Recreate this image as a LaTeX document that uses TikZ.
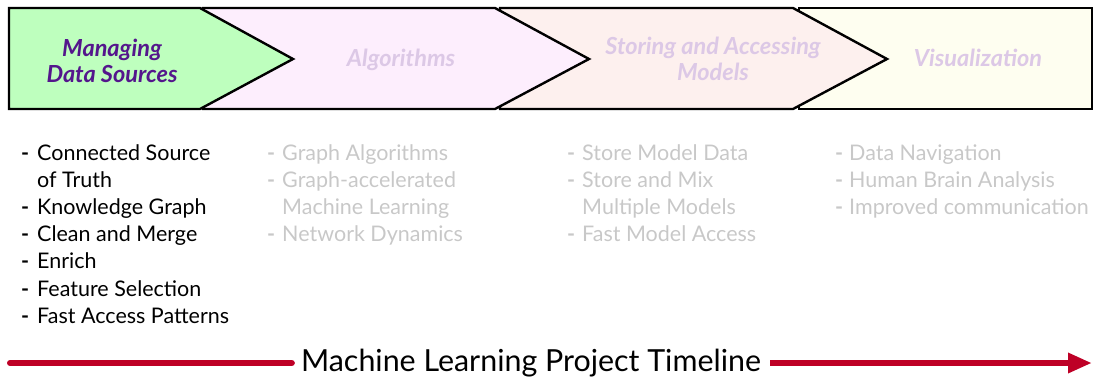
\documentclass[tikz,border=0pt]{standalone}
\usepackage{fontspec}
\setmainfont{Lato}
\usetikzlibrary{arrows.meta}
\definecolor{gfill}{RGB}{190,255,190}
\definecolor{pfill}{RGB}{253,238,253}
\definecolor{sfill}{RGB}{253,240,238}
\definecolor{yfill}{RGB}{254,254,240}
\definecolor{ptitle}{RGB}{84,22,140}
\definecolor{ltitle}{RGB}{220,200,230}
\definecolor{lgray}{RGB}{200,200,200}
\definecolor{tred}{RGB}{190,0,38}
\tikzset{
  chev/.style={draw=black,line width=2.4pt,line join=miter},
  ttl/.style={font=\fontsize{23.5}{26}\selectfont\bfseries\itshape,align=center,inner sep=0pt},
  itm/.style={font=\fontsize{21.5}{26}\selectfont,anchor=base west,inner sep=0pt},
  dsh/.style={font=\fontsize{21.5}{26}\selectfont\bfseries,anchor=base west,inner sep=0pt},
  tline/.style={draw=tred,line width=6pt}
}
\begin{document}
\begin{tikzpicture}[x=1pt,y=-1pt]
\useasboundingbox (0,0) rectangle (1094,381);
% chevrons, drawn right to left
\draw[chev,fill=yfill] (799,8) -- (1092,8) -- (1092,109) -- (799,109) -- cycle;
\draw[chev,fill=sfill] (500,8) -- (793,8) -- (887,59) -- (793,109) -- (500,109) -- cycle;
\draw[chev,fill=pfill] (203,8) -- (495,8) -- (589,59) -- (495,109) -- (203,109) -- cycle;
\draw[chev,fill=gfill] (9,8) -- (200,8) -- (293,59) -- (200,109) -- (9,109) -- cycle;
% titles
\node[ttl,text=ptitle] (t1) at (112,61) {Managing\\Data Sources};
\node[ttl,text=ltitle] (t2) at (401,60) {Algorithms};
\node[ttl,text=ltitle] (t3) at (713,59) {Storing and Accessing\\Models};
\node[ttl,text=ltitle] (t4) at (978,58) {Visualization};
% column 1
\foreach \n/\y/\d/\t in {a/160.5/-/Connected Source, b/187.6//of Truth, c/214.7/-/Knowledge Graph, d/241.8/-/Clean and Merge, e/268.9/-/Enrich, f/296/-/Feature Selection, g/323.1/-/Fast Access Patterns}{
  \node[dsh] (d1\n) at (21,\y) {\d};
  \node[itm] (i1\n) at (37,\y) {\t};
}
% column 2
\foreach \n/\y/\d/\t in {a/160.5/-/Graph Algorithms, b/187.6/-/Graph-accelerated, c/214.7//Machine Learning, d/241.8/-/Network Dynamics}{
  \node[dsh,text=lgray] (d2\n) at (267,\y) {\d};
  \node[itm,text=lgray] (i2\n) at (282,\y) {\t};
}
% column 3
\foreach \n/\y/\d/\t in {a/160.5/-/Store Model Data, b/187.6/-/Store and Mix, c/214.7//Multiple Models, d/241.8/-/Fast Model Access}{
  \node[dsh,text=lgray] (d3\n) at (567,\y) {\d};
  \node[itm,text=lgray] (i3\n) at (582,\y) {\t};
}
% column 4
\foreach \n/\y/\d/\t in {a/160.5/-/Data Navigation, b/187.6/-/Human Brain Analysis, c/214.7/-/Improved communication}{
  \node[dsh,text=lgray] (d4\n) at (835,\y) {\d};
  \node[itm,text=lgray] (i4\n) at (849,\y) {\t};
}
% timeline
\coordinate (ls) at (10,363);
\coordinate (le) at (1092,363);
\node[font=\fontsize{30.4}{34}\selectfont,inner xsep=9pt,inner ysep=0pt] (tl) at (531,363) {Machine Learning Project Timeline};
\draw[tline,line cap=round] (ls) -- (tl.west);
\draw[tline,-{Triangle[length=24pt,width=19pt]}] (tl.east) -- (le);
\end{tikzpicture}
\end{document}
